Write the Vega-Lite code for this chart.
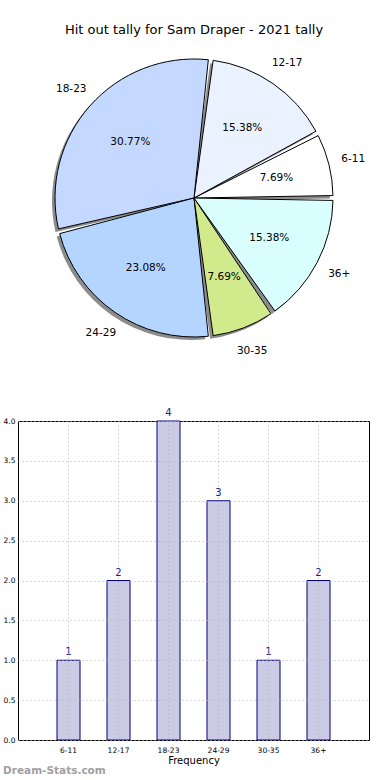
{
  "$schema": "https://vega.github.io/schema/vega-lite/v6.json",
  "padding": {"left": 2, "top": 24, "right": 0, "bottom": 0},
  "background": "white",
  "config": {"font": "DejaVu Sans", "view": {"stroke": null}},
  "datasets": {
    "d": [
      {"age": "6-11", "count": 1, "i": 1, "pct": "7.69%"},
      {"age": "12-17", "count": 2, "i": 2, "pct": "15.38%"},
      {"age": "18-23", "count": 4, "i": 3, "pct": "30.77%"},
      {"age": "24-29", "count": 3, "i": 4, "pct": "23.08%"},
      {"age": "30-35", "count": 1, "i": 5, "pct": "7.69%"},
      {"age": "36+", "count": 2, "i": 6, "pct": "15.38%"}
    ]
  },
  "bounds": "flush",
  "spacing": 74,
  "vconcat": [
    {
      "width": 352,
      "height": 298,
      "title": {"text": "Hit out tally for Sam Draper - 2021 tally", "fontSize": 13, "fontWeight": "normal", "font": "DejaVu Sans", "color": "#000000", "offset": 12, "anchor": "middle"},
      "data": {"name": "d"},
      "encoding": {
        "theta": {"field": "count", "type": "quantitative", "stack": true, "scale": {"range": [-4.7124, 1.5708]}},
        "order": {"field": "i", "type": "quantitative", "sort": "descending"}
      },
      "layer": [
        {"mark": {"type": "arc", "outerRadius": 139, "padAngle": 0.035, "fill": "#8c8c8c", "xOffset": -3, "yOffset": 3}},
        {"mark": {"type": "arc", "outerRadius": 139, "padAngle": 0.035, "stroke": "#000000", "strokeWidth": 1},
         "encoding": {"color": {"field": "age", "type": "nominal", "legend": null,
           "scale": {"domain": ["6-11", "12-17", "18-23", "24-29", "30-35", "36+"], "range": ["#ffffff", "#ebf2ff", "#c5d8ff", "#b4d5ff", "#d1ea8c", "#daffff"]}}}},
        {"mark": {"type": "text", "radius": 85, "fontSize": 10.5, "color": "#000000"}, "encoding": {"text": {"field": "pct"}}},
        {"mark": {"type": "text", "radius": 164, "fontSize": 10.5, "color": "#000000"}, "encoding": {"text": {"field": "age"}}}
      ]
    },
    {
      "width": 351,
      "height": 319,
      "view": {"stroke": "#000000", "strokeWidth": 1},
      "title": {"text": "Dream-Stats.com", "orient": "bottom", "anchor": "start", "frame": "bounds", "fontSize": 10.5, "fontWeight": "bold", "color": "#a0a0a0", "offset": 0},
      "data": {"name": "d"},
      "encoding": {
        "x": {"field": "age", "type": "nominal", "sort": {"field": "i"},
          "scale": {"paddingInner": 0.54, "paddingOuter": 0.78},
          "axis": {"labelAngle": 0, "labelFontSize": 7.5, "labelColor": "#000000", "title": "Frequency", "titleFontSize": 10, "titleFontWeight": "normal", "titleColor": "#000000", "titlePadding": 2, "ticks": false, "domain": false, "grid": true, "gridDash": [1, 3], "gridColor": "#b0b0b0", "bandPosition": 0.5, "zindex": 1, "labelPadding": 6}},
        "y": {"field": "count", "type": "quantitative", "scale": {"domain": [0, 4], "nice": false},
          "axis": {"values": [0, 0.5, 1, 1.5, 2, 2.5, 3, 3.5, 4], "format": ".1f", "labelFontSize": 7.5, "labelColor": "#000000", "ticks": false, "domain": false, "grid": true, "gridDash": [1, 3], "gridColor": "#b0b0b0", "title": null, "labelPadding": 3, "zindex": 1}}
      },
      "layer": [
        {"mark": {"type": "bar", "fill": "#cbcbe6", "stroke": "#000080", "strokeWidth": 1}},
        {"mark": {"type": "text", "baseline": "alphabetic", "dy": -5, "fontSize": 10, "color": "#22228a"}, "encoding": {"text": {"field": "count"}}}
      ]
    }
  ]
}
